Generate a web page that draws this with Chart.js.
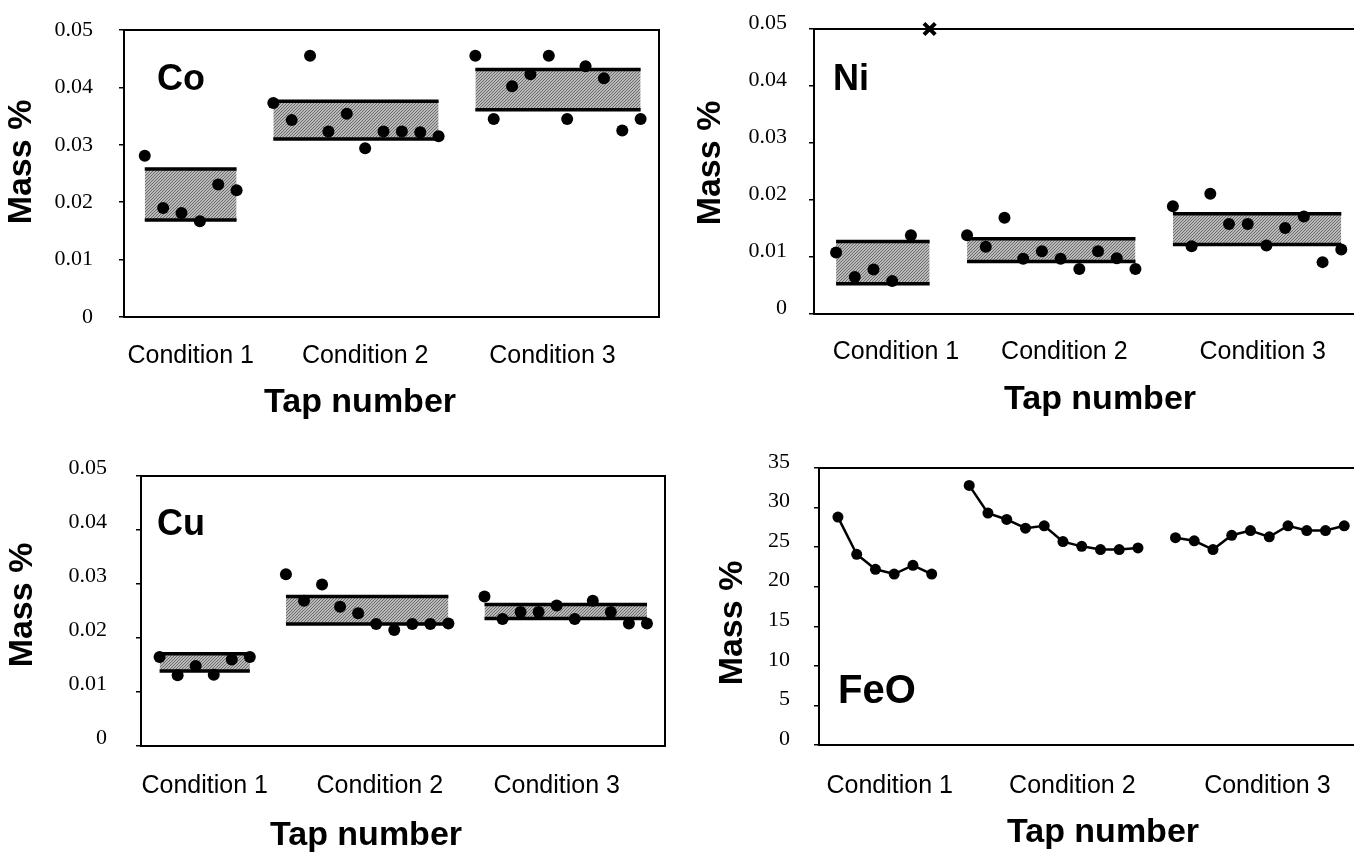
<!DOCTYPE html>
<html>
<head>
<meta charset="utf-8">
<title>Mass % by tap number</title>
<script src="https://cdn.jsdelivr.net/npm/chart.js@4.4.1/dist/chart.umd.min.js"></script>
<style>
  html, body { margin: 0; padding: 0; background: #fff; }
  body { width: 1354px; height: 852px; overflow: hidden; position: relative; }
  canvas { position: absolute; }
</style>
</head>
<body>
<canvas id="co" width="680" height="430" style="left:0;top:0"></canvas>
<canvas id="ni" width="700" height="430" style="left:680px;top:0"></canvas>
<canvas id="cu" width="680" height="412" style="left:0;top:440px"></canvas>
<canvas id="feo" width="700" height="412" style="left:680px;top:440px"></canvas>
<script>
// categories / taps
var conditions = ['Condition 1', 'Condition 2', 'Condition 3'];
var tapStart = [0, 7, 18];       // first tap slot of each condition
var tapCount = [6, 10, 10];      // taps per condition
var massTicks = [0, 0.01, 0.02, 0.03, 0.04, 0.05];
var feoTicks = [0, 5, 10, 15, 20, 25, 30, 35];

// Co
var coCond1 = [0.0281, 0.0190, 0.0181, 0.0167, 0.0231, 0.0221];
var coCond2 = [0.0373, 0.0343, 0.0455, 0.0323, 0.0354, 0.0294, 0.0323, 0.0323, 0.0322, 0.0315];
var coCond3 = [0.0455, 0.0345, 0.0402, 0.0423, 0.0455, 0.0345, 0.0437, 0.0416, 0.0325, 0.0345];
var coBandTop = [0.0258, 0.0376, 0.0431];
var coBandBottom = [0.0169, 0.0310, 0.0361];

// Ni (last tap of condition 1 is off scale, shown as x at the top)
var niCond1 = [0.0108, 0.0065, 0.0078, 0.0058, 0.0138];
var niCond2 = [0.0138, 0.0118, 0.0169, 0.0097, 0.0110, 0.0097, 0.0079, 0.0110, 0.0098, 0.0079];
var niCond3 = [0.0189, 0.0119, 0.0211, 0.0158, 0.0158, 0.0120, 0.0151, 0.0171, 0.0091, 0.0113];
var niOffScaleTap = [5];
var niBandTop = [0.0127, 0.0132, 0.0176];
var niBandBottom = [0.0053, 0.0092, 0.0122];

// Cu
var cuCond1 = [0.0165, 0.0131, 0.0148, 0.0132, 0.0160, 0.0165];
var cuCond2 = [0.0318, 0.0269, 0.0299, 0.0258, 0.0246, 0.0226, 0.0215, 0.0226, 0.0226, 0.0227];
var cuCond3 = [0.0277, 0.0235, 0.0248, 0.0248, 0.0260, 0.0235, 0.0269, 0.0248, 0.0227, 0.0227];
var cuBandTop = [0.0171, 0.0277, 0.0262];
var cuBandBottom = [0.0139, 0.0226, 0.0236];

// FeO
var feoCond1 = [28.8, 24.1, 22.2, 21.6, 22.7, 21.6];
var feoCond2 = [32.8, 29.3, 28.5, 27.4, 27.7, 25.7, 25.1, 24.7, 24.7, 24.9];
var feoCond3 = [26.2, 25.8, 24.7, 26.5, 27.1, 26.3, 27.7, 27.1, 27.1, 27.7];

function tapPoints(values, c){
    return values.map(function(v, i){ return {x: tapStart[c] + i, y: v}; });
}

function bandPattern(){
    var c = document.createElement('canvas');
    c.width = 3; c.height = 3;
    var g = c.getContext('2d');
    g.fillStyle = '#b9b9b9';
    g.fillRect(0, 0, 3, 3);
    g.fillStyle = '#6e6e6e';
    for(var i = 0; i < 3; i++){
        g.fillRect(i, (2 - i), 1, 1);
    }
    return g.createPattern(c, 'repeat');
}
var hatch = bandPattern();

function bandDatasets(top, bottom){
    var sets = [];
    for(var c = 0; c < 3; c++){
        var x0 = tapStart[c], x1 = tapStart[c] + tapCount[c] - 1;
        sets.push({
            type: 'line', order: 2,
            data: [{x: x0, y: top[c]}, {x: x1, y: top[c]}],
            borderColor: '#000', borderWidth: 3.5, pointRadius: 0, fill: false
        });
        sets.push({
            type: 'line', order: 2,
            data: [{x: x0, y: bottom[c]}, {x: x1, y: bottom[c]}],
            borderColor: '#000', borderWidth: 3.5, pointRadius: 0,
            fill: '-1', backgroundColor: hatch
        });
    }
    return sets;
}

function dots(values, c){
    return {
        type: 'scatter', order: 0,
        data: tapPoints(values, c),
        pointRadius: 6, pointHoverRadius: 6,
        backgroundColor: '#000', borderColor: '#000', borderWidth: 0
    };
}

function feoLine(values, c){
    return {
        type: 'line', order: 0,
        data: tapPoints(values, c),
        borderColor: '#000', borderWidth: 2.5, fill: false,
        pointRadius: 5.5, backgroundColor: '#000', pointBorderWidth: 0
    };
}

// box round the plot area, panel label and axis titles
var panelText = {
    id: 'panel',
    beforeDatasetsDraw: function(chart){
        var ctx = chart.ctx, a = chart.chartArea;
        ctx.save();
        ctx.strokeStyle = '#000';
        ctx.lineWidth = 2;
        ctx.strokeRect(a.left, a.top, a.right - a.left, a.bottom - a.top);
        ctx.restore();
    },
    afterDraw: function(chart, args, o){
        var ctx = chart.ctx;
        ctx.save();
        ctx.fillStyle = '#000';
        ctx.font = 'bold ' + o.labelSize + 'px "Liberation Sans", Arial, sans-serif';
        ctx.textAlign = 'left';
        ctx.textBaseline = 'alphabetic';
        ctx.fillText(o.label, o.labelX, o.labelY);

        ctx.font = 'bold 34px "Liberation Sans", Arial, sans-serif';
        ctx.textAlign = 'center';
        ctx.textBaseline = 'middle';
        ctx.fillText('Tap number', o.tapX, o.tapY);

        ctx.translate(o.massX, o.massY);
        ctx.rotate(-Math.PI / 2);
        ctx.fillText('Mass %', 0, 0);
        ctx.restore();
    }
};

function makeChart(id, datasets, p){
    return new Chart(document.getElementById(id).getContext('2d'), {
        type: 'scatter',
        data: {datasets: datasets},
        plugins: [panelText],
        options: {
            responsive: false,
            animation: false,
            events: [],
            layout: {padding: {left: 0, top: p.top, right: p.right, bottom: 0}},
            plugins: {
                legend: {display: false},
                tooltip: {enabled: false},
                panel: p.text
            },
            scales: {
                x: {
                    type: 'linear', min: p.xMin, max: 28,
                    afterFit: function(s){
                        s.height = p.xHeight;
                        s.paddingLeft = 0; s.paddingRight = 0;
                    },
                    afterBuildTicks: function(s){
                        s.ticks = p.labelPos.map(function(v){ return {value: v}; });
                    },
                    grid: {display: false},
                    border: {display: false},
                    ticks: {
                        autoSkip: false, maxRotation: 0, minRotation: 0,
                        padding: p.xPad, color: '#000',
                        font: {family: '"Liberation Sans", Arial, sans-serif', size: 25},
                        callback: function(v, i){ return conditions[i]; }
                    }
                },
                y: {
                    type: 'linear', min: 0, max: p.yTicks[p.yTicks.length - 1],
                    afterFit: function(s){
                        s.width = p.yWidth;
                        s.paddingTop = 0; s.paddingBottom = 0;
                    },
                    afterBuildTicks: function(s){
                        s.ticks = p.yTicks.map(function(v){ return {value: v}; });
                    },
                    grid: {display: true, drawOnChartArea: false, drawTicks: true, tickLength: 5, color: '#000', lineWidth: 1.5},
                    border: {display: false},
                    ticks: {
                        padding: p.yPad, labelOffset: p.yLabelOffset, color: '#000',
                        font: {family: '"Liberation Serif", "Times New Roman", serif', size: 22},
                        callback: p.yFormat
                    }
                }
            }
        }
    });
}

function massFormat(v){ return v === 0 ? '0' : v.toFixed(2); }
function feoFormat(v){ return String(v); }

makeChart('co',
    [dots(coCond1, 0), dots(coCond2, 1), dots(coCond3, 2)].concat(bandDatasets(coBandTop, coBandBottom)),
    {
        top: 30, right: 21, xHeight: 113, yWidth: 124, xMin: -1.13,
        labelPos: [2.5, 12.0, 22.2], xPad: 16,
        yTicks: massTicks, yPad: 26, yLabelOffset: 0, yFormat: massFormat,
        text: {label: 'Co', labelSize: 36, labelX: 157, labelY: 90, tapX: 360, tapY: 403, massX: 22, massY: 162}
    });

var niCross = {
    type: 'scatter', order: 0, clip: false,
    data: niOffScaleTap.map(function(t){ return {x: t, y: massTicks[massTicks.length - 1]}; }),
    pointStyle: 'crossRot', pointRadius: 8, borderColor: '#000', borderWidth: 4
};

makeChart('ni',
    [dots(niCond1, 0), dots(niCond2, 1), dots(niCond3, 2), niCross].concat(bandDatasets(niBandTop, niBandBottom)),
    {
        top: 29, right: 20, xHeight: 116, yWidth: 134, xMin: -1.18,
        labelPos: [3.2, 12.2, 22.8], xPad: 15,
        yTicks: massTicks, yPad: 22, yLabelOffset: -6, yFormat: massFormat,
        text: {label: 'Ni', labelSize: 36, labelX: 153, labelY: 90, tapX: 420, tapY: 400, massX: 31, massY: 163}
    });

makeChart('cu',
    [dots(cuCond1, 0), dots(cuCond2, 1), dots(cuCond3, 2)].concat(bandDatasets(cuBandTop, cuBandBottom)),
    {
        top: 36, right: 15, xHeight: 106, yWidth: 141, xMin: -1.03,
        labelPos: [2.5, 12.2, 22.0], xPad: 17,
        yTicks: massTicks, yPad: 29, yLabelOffset: -8, yFormat: massFormat,
        text: {label: 'Cu', labelSize: 36, labelX: 157, labelY: 95, tapX: 366, tapY: 396, massX: 23, massY: 165}
    });

makeChart('feo',
    [feoLine(feoCond1, 0), feoLine(feoCond2, 1), feoLine(feoCond3, 2)],
    {
        top: 28, right: 17, xHeight: 107, yWidth: 139, xMin: -1.01,
        labelPos: [2.76, 12.5, 22.9], xPad: 18,
        yTicks: feoTicks, yPad: 24, yLabelOffset: -6, yFormat: feoFormat,
        text: {label: 'FeO', labelSize: 40, labelX: 158, labelY: 263, tapX: 423, tapY: 393, massX: 53, massY: 183}
    });
</script>
</body>
</html>
